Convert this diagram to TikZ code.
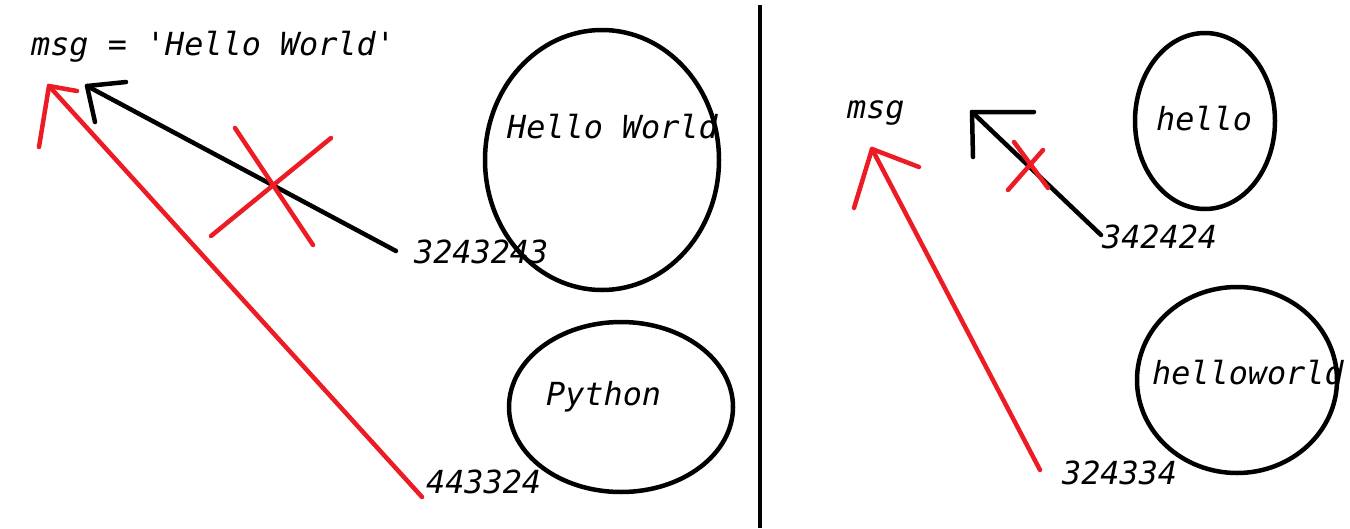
\documentclass[tikz,border=0pt]{standalone}
\usepackage{fontspec}
\newfontfamily\codefont{DejaVu Sans Mono}
\definecolor{paintred}{RGB}{237,28,36}
\tikzset{
  lbl/.style={anchor=base west, inner sep=0pt, font=\codefont\itshape\fontsize{31.8}{36}\selectfont},
  blob/.style={draw=black, line width=4.5pt, ellipse, inner sep=0pt},
  blk/.style={draw=black, line width=4.5pt, line cap=round, line join=round},
  rd/.style={draw=paintred, line width=4.5pt, line cap=round, line join=round},
}
\usetikzlibrary{shapes.geometric}
\begin{document}
\begin{tikzpicture}[x=1pt,y=-1pt]
\useasboundingbox (0,0) rectangle (1350,528);
% divider
\draw[line width=4.5pt] (760,5) -- (760,528);
% ellipses
\node[blob, minimum width=234pt, minimum height=260pt] (e1) at (602,160) {};
\node[blob, minimum width=224pt, minimum height=170pt] (e2) at (621,407) {};
\node[blob, minimum width=140pt, minimum height=176pt] (e3) at (1205,121) {};
\node[blob, minimum width=200pt, minimum height=186pt] (e4) at (1237,380) {};
% labels
\node[lbl] (code) at (31,55) {msg = 'Hello World'};
\node[lbl] (hw) at (507,138) {Hello World};
\node[lbl] (n1) at (414,263) {3243243};
\node[lbl] (py) at (546,405) {Python};
\node[lbl] (n2) at (426,493) {443324};
\node[lbl] (msg) at (847,118) {msg};
\node[lbl] (hel) at (1156,130) {hello};
\node[lbl] (n3) at (1102,248) {342424};
\node[lbl] (hwd) at (1152,384) {helloworld};
\node[lbl] (n4) at (1062,484) {324334};
% arrow coordinates
\coordinate (t1) at (87,86);
\coordinate (s1) at (396,251);
\coordinate (t2) at (49,86);
\coordinate (s2) at (422,497);
\coordinate (t3) at (972,112);
\coordinate (s3) at (1101,235);
\coordinate (t4) at (872,149);
\coordinate (s4) at (1040,470);
% left black arrow
\draw[blk] (s1) -- (t1);
\draw[blk] (126,82) -- (t1) -- (95,122);
% left red arrow
\draw[rd] (s2) -- (t2);
\draw[rd] (77,91) -- (t2) -- (39,147);
% left cross
\draw[rd] (235,128) -- (313,245);
\draw[rd] (211,236) -- (331,138);
% right black arrow
\draw[blk] (s3) -- (t3);
\draw[blk] (1034,112) -- (t3) -- (973,157);
% right cross
\draw[rd] (1014,142) -- (1048,188);
\draw[rd] (1008,190) -- (1043,150);
% right red arrow
\draw[rd] (s4) -- (t4);
\draw[rd] (919,167) -- (t4) -- (854,208);
\end{tikzpicture}
\end{document}
